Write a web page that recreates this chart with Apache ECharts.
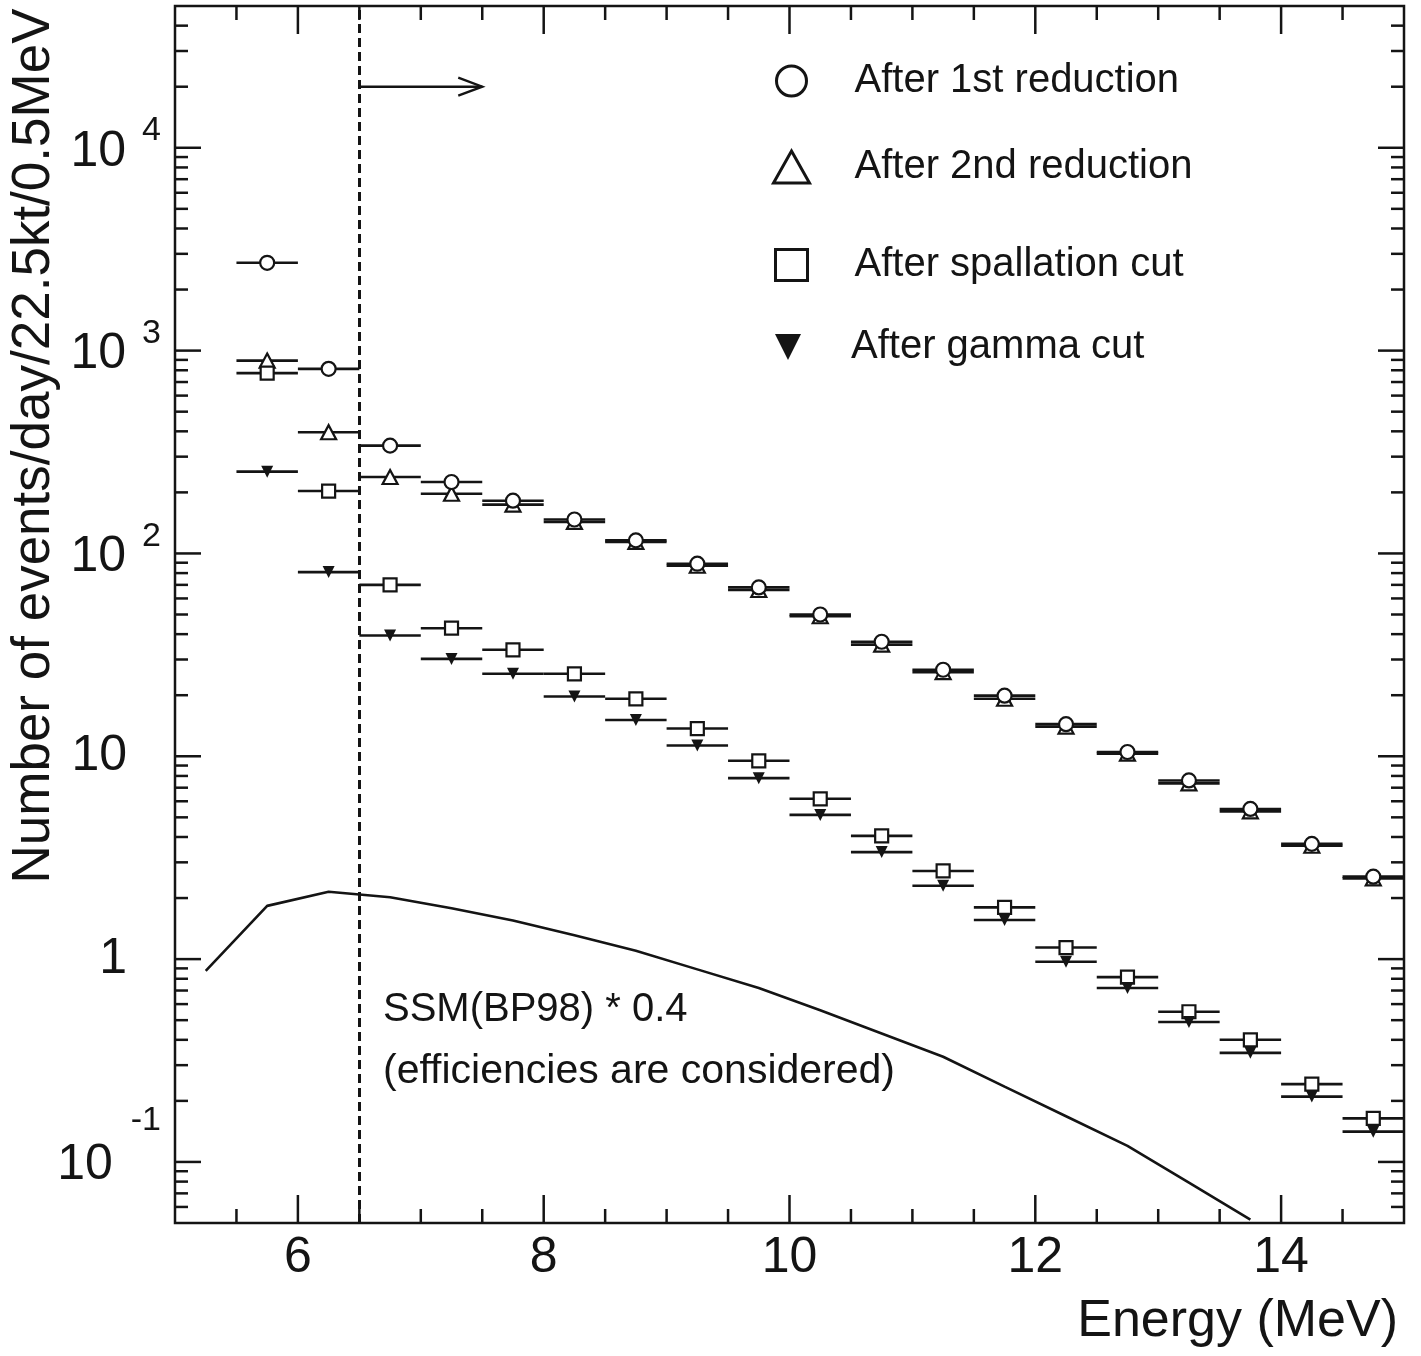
<!DOCTYPE html>
<html>
<head>
<meta charset="utf-8">
<script src="https://cdn.jsdelivr.net/npm/echarts@6/dist/echarts.min.js"></script>
<style>
html,body{margin:0;padding:0;background:#fff;}
#chart{width:1421px;height:1356px;}
</style>
</head>
<body>
<div id="chart"></div>
<script>
// ---------------- data ----------------
const energies = [5.75, 6.25, 6.75, 7.25, 7.75, 8.25, 8.75, 9.25, 9.75, 10.25,
                  10.75, 11.25, 11.75, 12.25, 12.75, 13.25, 13.75, 14.25, 14.75];
const firstReduction  = [2710, 813, 340, 225, 182, 147, 116, 89, 68, 50,
                         36.7, 26.7, 19.9, 14.4, 10.5, 7.6, 5.5, 3.7, 2.55];
const secondReduction = [893, 396, 238, 197, 174, 143, 114, 87, 66, 49,
                         35.5, 26, 19.2, 14.0, 10.3, 7.35, 5.35, 3.62, 2.5];
const spallationCut   = [774, 203, 70, 42.8, 33.5, 25.5, 19.2, 13.7, 9.5, 6.17,
                         4.05, 2.72, 1.80, 1.14, 0.815, 0.55, 0.40, 0.242, 0.164];
const gammaCut        = [253, 80.9, 39.4, 30.2, 25.5, 19.7, 15.1, 11.3, 7.8, 5.14,
                         3.37, 2.30, 1.56, 0.97, 0.72, 0.49, 0.345, 0.21, 0.141];
const ssmEnergies = [5.25, 5.75, 6.25, 6.75, 7.25, 7.75, 8.25, 8.75, 9.25, 9.75,
                     10.25, 10.75, 11.25, 11.75, 12.25, 12.75, 13.25, 13.75];
const ssmValues   = [0.875, 1.83, 2.15, 2.02, 1.78, 1.55, 1.31, 1.10, 0.89, 0.72,
                     0.56, 0.43, 0.33, 0.235, 0.168, 0.12, 0.079, 0.052];
const binHalfWidth = 0.25;          // bins are 0.5 MeV wide
const thresholdEnergy = 6.5;        // analysis threshold (dashed line)
const arrowFrom = [6.5, 20000];
const arrowTo   = [7.5, 20000];
const xRange = [5, 15];
const yRange = [0.05, 50000];
const xTickValues  = [5.5, 6, 6.5, 7, 7.5, 8, 8.5, 9, 9.5, 10, 10.5, 11, 11.5, 12, 12.5, 13, 13.5, 14, 14.5];
const xLabelValues = [6, 8, 10, 12, 14];
const yDecades = [0.01, 0.1, 1, 10, 100, 1000, 10000];
const yMultipliers = [1, 2, 3, 4, 5, 6, 7, 8, 9];
const seriesNames = ['After 1st reduction', 'After 2nd reduction', 'After spallation cut', 'After gamma cut'];

// ---------------- style ----------------
const ink = '#141414';
const FONT = '"Liberation Sans", Arial, Helvetica, sans-serif';

const pairs = (xs, ys) => xs.map((x, i) => [x, ys[i]]);

const yTickData = [];
yDecades.forEach(d => yMultipliers.forEach(m => {
  const v = d * m;
  if (v > yRange[0] * 1.0001 && v < yRange[1] * 0.9999) yTickData.push([xRange[0], v, m === 1 ? 1 : 0]);
}));
const xTickData = xTickValues.map(v => [v, 1, xLabelValues.indexOf(v) >= 0 ? 1 : 0]);

function renderYTick(params, api) {
  const v = api.value(1);
  const len = api.value(2) === 1 ? 26 : 13;
  const pl = api.coord([xRange[0], v]);
  const pr = api.coord([xRange[1], v]);
  return { type: 'group', children: [
    { type: 'line', shape: { x1: pl[0], y1: pl[1], x2: pl[0] + len, y2: pl[1] }, style: { stroke: ink, lineWidth: 2.5 } },
    { type: 'line', shape: { x1: pr[0] - len, y1: pr[1], x2: pr[0], y2: pr[1] }, style: { stroke: ink, lineWidth: 2.5 } }
  ]};
}
function renderXTick(params, api) {
  const v = api.value(0);
  const len = api.value(2) === 1 ? 28 : 14;
  const pb = api.coord([v, yRange[0]]);
  const pt = api.coord([v, yRange[1]]);
  return { type: 'group', children: [
    { type: 'line', shape: { x1: pb[0], y1: pb[1], x2: pb[0], y2: pb[1] - len }, style: { stroke: ink, lineWidth: 2.5 } },
    { type: 'line', shape: { x1: pt[0], y1: pt[1], x2: pt[0], y2: pt[1] + len }, style: { stroke: ink, lineWidth: 2.5 } }
  ]};
}
function renderBar(params, api) {
  const x = api.value(0), y = api.value(1);
  const p1 = api.coord([x - binHalfWidth, y]);
  const p2 = api.coord([x + binHalfWidth, y]);
  return { type: 'line', shape: { x1: p1[0], y1: p1[1], x2: p2[0], y2: p2[1] }, style: { stroke: ink, lineWidth: 2.6 } };
}
function renderArrow(params, api) {
  const p1 = api.coord([api.value(0), api.value(1)]);
  const p2 = api.coord([api.value(2), api.value(3)]);
  return { type: 'group', children: [
    { type: 'line', shape: { x1: p1[0], y1: p1[1], x2: p2[0], y2: p2[1] }, style: { stroke: ink, lineWidth: 2.4 } },
    { type: 'polyline', shape: { points: [[p2[0] - 24, p2[1] - 9], [p2[0], p2[1]], [p2[0] - 24, p2[1] + 9]] },
      style: { stroke: ink, lineWidth: 2.4, fill: null } }
  ]};
}

function barSeries(vals) {
  return { type: 'custom', renderItem: renderBar, data: pairs(energies, vals), z: 3, silent: true, animation: false };
}
function markerSeries(name, vals, symbol, size, filled) {
  return {
    name: name, type: 'scatter', data: pairs(energies, vals), symbol: symbol, symbolSize: size,
    itemStyle: { color: filled ? ink : '#fff', borderColor: ink, borderWidth: filled ? 0 : 2.2, opacity: 1 },
    z: 4, silent: true, animation: false
  };
}
const downTri = 'path://M0,0 L10,0 L5,10 Z';

function legendAt(name, left, top, w, h, pad, filled) {
  return {
    data: [name], left: left, top: top, orient: 'vertical', padding: 0,
    itemWidth: w, itemHeight: h, selectedMode: false,
    itemStyle: { color: filled ? ink : '#fff', borderColor: ink, borderWidth: filled ? 0 : 3 },
    formatter: n => '{t|' + n + '}',
    textStyle: { color: ink, fontFamily: FONT, fontSize: 40,
      rich: { t: { fontSize: 40, lineHeight: 40, fontFamily: FONT, color: ink, padding: [0, 0, 0, pad] } } }
  };
}

const chart = echarts.init(document.getElementById('chart'), null, { renderer: 'canvas' });
chart.setOption({
  animation: false,
  backgroundColor: '#fff',
  grid: { left: 175, right: 17, top: 6, bottom: 133, show: true, borderColor: ink, borderWidth: 2.5, backgroundColor: 'transparent' },
  xAxis: {
    type: 'value', min: xRange[0], max: xRange[1], interval: 1,
    axisLine: { show: false }, axisTick: { show: false }, splitLine: { show: false },
    axisLabel: { color: ink, fontFamily: FONT, fontSize: 50, margin: 10,
      formatter: v => (xLabelValues.indexOf(v) >= 0 ? String(v) : '') }
  },
  yAxis: {
    type: 'log', logBase: 10, min: yRange[0], max: yRange[1],
    axisLine: { show: false }, axisTick: { show: false }, splitLine: { show: false }, minorTick: { show: false },
    axisLabel: {
      color: ink, fontFamily: FONT, margin: 14,
      formatter: function (v) {
        const lg = Math.log10(v); const e = Math.round(lg);
        if (Math.abs(lg - e) > 1e-6) return '';
        if (e === 0) return '{p|1}';
        if (e === 1) return '{p|10}';
        if (e < 0) return '{bn|10}{en|' + e + '}';
        return '{b|10}{e|' + e + '}';
      },
      rich: {
        p:  { fontFamily: FONT, color: ink, fontSize: 50, lineHeight: 50, padding: [0, 34, 0, 0] },
        b:  { fontFamily: FONT, color: ink, fontSize: 50, lineHeight: 50, padding: [19, 0, 11, 0] },
        e:  { fontFamily: FONT, color: ink, fontSize: 34, lineHeight: 34, padding: [6, 0, 40, 16] },
        bn: { fontFamily: FONT, color: ink, fontSize: 50, lineHeight: 50, padding: [38, 0, 32, 0] },
        en: { fontFamily: FONT, color: ink, fontSize: 34, lineHeight: 34, padding: [2, 0, 84, 18] }
      }
    }
  },
  legend: [
    legendAt(seriesNames[0], 775, 61, 30, 30, 43, false),
    legendAt(seriesNames[1], 772, 147, 36, 32, 40, false),
    legendAt(seriesNames[2], 774, 245, 32, 31, 42, false),
    legendAt(seriesNames[3], 775, 327, 30, 26, 43, true)
  ],
  graphic: [
    { type: 'text', x: 34, y: 446, rotation: Math.PI / 2, silent: true,
      style: { text: 'Number of events/day/22.5kt/0.5MeV', fontFamily: FONT, fontSize: 53, fill: ink, align: 'center', verticalAlign: 'middle' } },
    { type: 'text', x: 1398, y: 1322, silent: true,
      style: { text: 'Energy (MeV)', fontFamily: FONT, fontSize: 52, fill: ink, align: 'right', verticalAlign: 'middle' } },
    { type: 'text', x: 383, y: 1010, silent: true,
      style: { text: 'SSM(BP98) * 0.4', fontFamily: FONT, fontSize: 40, fill: ink, align: 'left', verticalAlign: 'middle' } },
    { type: 'text', x: 383, y: 1072, silent: true,
      style: { text: '(efficiencies are considered)', fontFamily: FONT, fontSize: 41, fill: ink, align: 'left', verticalAlign: 'middle' } }
  ],
  series: [
    { type: 'custom', renderItem: renderYTick, data: yTickData, z: 5, silent: true },
    { type: 'custom', renderItem: renderXTick, data: xTickData, z: 5, silent: true },
    {
      name: 'SSM(BP98) * 0.4', type: 'line', data: pairs(ssmEnergies, ssmValues),
      showSymbol: false, symbol: 'none', smooth: false, silent: true,
      lineStyle: { color: ink, width: 2.6 }, z: 2,
      markLine: { silent: true, symbol: 'none', label: { show: false },
        lineStyle: { color: ink, width: 3, type: [9, 5] },
        emphasis: { disabled: true },
        data: [{ xAxis: thresholdEnergy }] }
    },
    { type: 'custom', renderItem: renderArrow, data: [[arrowFrom[0], arrowFrom[1], arrowTo[0], arrowTo[1]]], z: 3, silent: true },
    barSeries(firstReduction),
    barSeries(secondReduction),
    barSeries(spallationCut),
    barSeries(gammaCut),
    markerSeries(seriesNames[1], secondReduction, 'triangle', [15, 14], false),
    markerSeries(seriesNames[0], firstReduction, 'circle', 14, false),
    markerSeries(seriesNames[2], spallationCut, 'rect', 13, false),
    markerSeries(seriesNames[3], gammaCut, downTri, [12, 12], true)
  ]
});
</script>
</body>
</html>
